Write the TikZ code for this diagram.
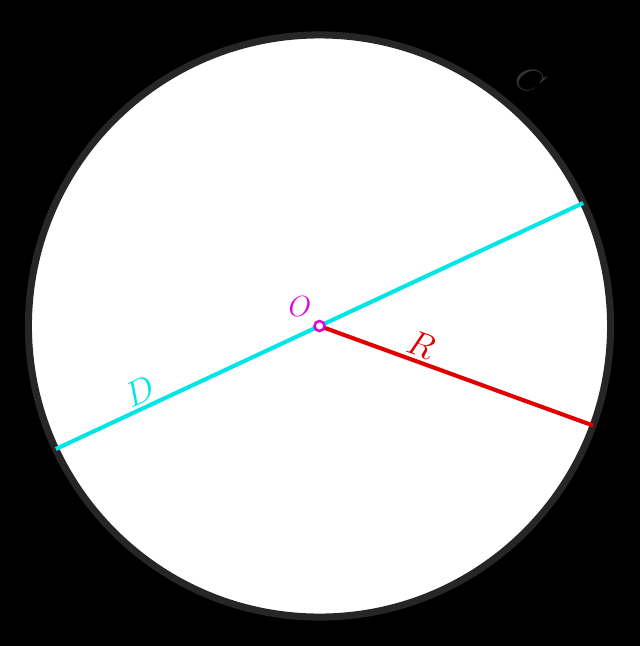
\documentclass[tikz,border=0pt]{standalone}
\usepackage{amsmath}
\usepackage{tikz}

\definecolor{rimgray}{HTML}{262626}
\definecolor{labgray}{HTML}{333333}
\definecolor{diamcyan}{HTML}{00E6E6}
\definecolor{radred}{HTML}{E00000}
\definecolor{centmag}{HTML}{E000E0}

\tikzset{
  rim/.style={draw=rimgray, fill=white, line width=5pt},
  diam/.style={draw=diamcyan, line width=2.9pt},
  rad/.style={draw=radred, line width=2.9pt},
  centre/.style={circle, draw=centmag, fill=white, line width=1.8pt,
    inner sep=0pt, minimum size=0.25cm},
  biglab/.style={font=\fontsize{24.88}{28}\selectfont, inner sep=2pt},
}

\begin{document}
\begin{tikzpicture}[>=stealth, x=0.025cm, y=-0.025cm]

  % background and frame
  \fill[black] (0,0) rectangle (640,646);
  \useasboundingbox (0,0) rectangle (640,646);

  %------------------ CIRCLE ------------------%
  \coordinate (O) at (319.5,326);
  \draw[rim] (O) circle[radius=7.275cm];
  \node[biglab, text=labgray, rotate=-35] (labC) at (530,80) {$C$};

  %------------------ DIAMETER ------------------%
  \coordinate (A) at (583.2,203.0);
  \coordinate (B) at (55.8,449.0);
  \draw[diam] (B) -- (A)
    node[pos=0.172, sloped, above, biglab, text=diamcyan] (labD) {$D$};

  %------------------ RADIUS ------------------%
  \coordinate (P) at (593.0,425.5);
  \draw[rad] (O) -- (P)
    node[pos=0.35, sloped, above, biglab, text=radred] (labR) {$R$};

  %------------------ CENTRE ------------------%
  \node[centre] (Omark) at (O) {};
  \node[font=\fontsize{20.74}{24}\selectfont, text=centmag] (labO) at (300,307) {$O$};

\end{tikzpicture}
\end{document}
